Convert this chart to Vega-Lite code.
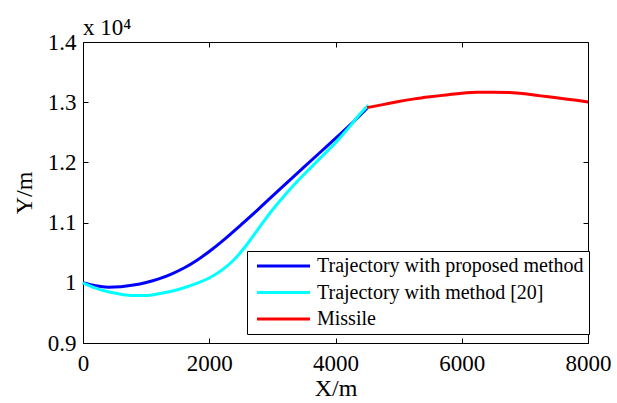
{
  "$schema": "https://vega.github.io/schema/vega-lite/v6.json",
  "width": 505,
  "height": 301,
  "autosize": "none",
  "padding": {"left": 83, "top": 42, "right": 29, "bottom": 60},
  "background": "white",
  "config": {
    "view": {"stroke": "black", "strokeWidth": 1},
    "font": "Liberation Serif",
    "axis": {"domain": false, "grid": false, "tickColor": "black", "tickSize": -5, "tickWidth": 1, "labelFlush": false, "labelOverlap": false, "labelFont": "Liberation Serif", "labelFontSize": 23, "labelColor": "black", "titleFont": "Liberation Serif", "titleFontSize": 24, "titleFontWeight": "normal", "titleColor": "black"}
  },
  "data": {"values": [
    {"x": 0, "y": 10000, "s": "Trajectory with proposed method"},
    {"x": 200, "y": 9950, "s": "Trajectory with proposed method"},
    {"x": 400, "y": 9928, "s": "Trajectory with proposed method"},
    {"x": 600, "y": 9935, "s": "Trajectory with proposed method"},
    {"x": 800, "y": 9962, "s": "Trajectory with proposed method"},
    {"x": 1000, "y": 10005, "s": "Trajectory with proposed method"},
    {"x": 1200, "y": 10065, "s": "Trajectory with proposed method"},
    {"x": 1400, "y": 10145, "s": "Trajectory with proposed method"},
    {"x": 1600, "y": 10245, "s": "Trajectory with proposed method"},
    {"x": 1800, "y": 10370, "s": "Trajectory with proposed method"},
    {"x": 2000, "y": 10520, "s": "Trajectory with proposed method"},
    {"x": 2250, "y": 10730, "s": "Trajectory with proposed method"},
    {"x": 2500, "y": 10960, "s": "Trajectory with proposed method"},
    {"x": 2750, "y": 11195, "s": "Trajectory with proposed method"},
    {"x": 3000, "y": 11440, "s": "Trajectory with proposed method"},
    {"x": 3250, "y": 11680, "s": "Trajectory with proposed method"},
    {"x": 3500, "y": 11920, "s": "Trajectory with proposed method"},
    {"x": 3750, "y": 12160, "s": "Trajectory with proposed method"},
    {"x": 4000, "y": 12400, "s": "Trajectory with proposed method"},
    {"x": 4250, "y": 12640, "s": "Trajectory with proposed method"},
    {"x": 4500, "y": 12900, "s": "Trajectory with proposed method"},
    {"x": 0, "y": 10000, "s": "Trajectory with method [20]"},
    {"x": 200, "y": 9912, "s": "Trajectory with method [20]"},
    {"x": 400, "y": 9850, "s": "Trajectory with method [20]"},
    {"x": 600, "y": 9810, "s": "Trajectory with method [20]"},
    {"x": 800, "y": 9788, "s": "Trajectory with method [20]"},
    {"x": 1000, "y": 9790, "s": "Trajectory with method [20]"},
    {"x": 1200, "y": 9818, "s": "Trajectory with method [20]"},
    {"x": 1400, "y": 9860, "s": "Trajectory with method [20]"},
    {"x": 1600, "y": 9918, "s": "Trajectory with method [20]"},
    {"x": 1800, "y": 9990, "s": "Trajectory with method [20]"},
    {"x": 2000, "y": 10080, "s": "Trajectory with method [20]"},
    {"x": 2200, "y": 10210, "s": "Trajectory with method [20]"},
    {"x": 2400, "y": 10390, "s": "Trajectory with method [20]"},
    {"x": 2600, "y": 10640, "s": "Trajectory with method [20]"},
    {"x": 2800, "y": 10930, "s": "Trajectory with method [20]"},
    {"x": 3000, "y": 11210, "s": "Trajectory with method [20]"},
    {"x": 3200, "y": 11460, "s": "Trajectory with method [20]"},
    {"x": 3400, "y": 11690, "s": "Trajectory with method [20]"},
    {"x": 3600, "y": 11905, "s": "Trajectory with method [20]"},
    {"x": 3800, "y": 12115, "s": "Trajectory with method [20]"},
    {"x": 4000, "y": 12325, "s": "Trajectory with method [20]"},
    {"x": 4200, "y": 12565, "s": "Trajectory with method [20]"},
    {"x": 4400, "y": 12815, "s": "Trajectory with method [20]"},
    {"x": 4520, "y": 12950, "s": "Trajectory with method [20]"},
    {"x": 4500, "y": 12910, "s": "Missile"},
    {"x": 4750, "y": 12960, "s": "Missile"},
    {"x": 5000, "y": 13010, "s": "Missile"},
    {"x": 5250, "y": 13055, "s": "Missile"},
    {"x": 5500, "y": 13090, "s": "Missile"},
    {"x": 5750, "y": 13120, "s": "Missile"},
    {"x": 6000, "y": 13150, "s": "Missile"},
    {"x": 6250, "y": 13165, "s": "Missile"},
    {"x": 6500, "y": 13165, "s": "Missile"},
    {"x": 6750, "y": 13160, "s": "Missile"},
    {"x": 7000, "y": 13140, "s": "Missile"},
    {"x": 7250, "y": 13105, "s": "Missile"},
    {"x": 7500, "y": 13075, "s": "Missile"},
    {"x": 7750, "y": 13040, "s": "Missile"},
    {"x": 8000, "y": 13005, "s": "Missile"}
  ]},
  "layer": [
    {
      "mark": {"type": "line", "strokeWidth": 3, "interpolate": "monotone"},
      "encoding": {
        "x": {"field": "x", "type": "quantitative", "scale": {"domain": [0, 8000], "nice": false}, "axis": {"orient": "bottom", "title": "X/m", "values": [0, 2000, 4000, 6000, 8000], "format": "d", "labelPadding": 14, "titlePadding": 1}},
        "y": {"field": "y", "type": "quantitative", "scale": {"domain": [9000, 14000], "nice": false, "zero": false}, "axis": {"orient": "left", "title": "Y/m", "values": [9000, 10000, 11000, 12000, 13000, 14000], "labelExpr": "datum.value == 10000 ? '1' : format(datum.value / 10000, '.1f')", "labelPadding": 12, "titlePadding": 11}},
        "color": {"field": "s", "type": "nominal", "sort": ["Trajectory with proposed method", "Trajectory with method [20]", "Missile"], "scale": {"domain": ["Trajectory with proposed method", "Trajectory with method [20]", "Missile"], "range": ["#0000FF", "#00FFFF", "#FF0000"]},
          "legend": {"title": null, "orient": "none", "legendX": 164, "legendY": 209, "padding": 5, "strokeColor": "black", "fillColor": "white", "cornerRadius": 0, "symbolType": "M-0.59,0H5.65", "symbolSize": 289, "symbolStrokeWidth": 3, "labelFont": "Liberation Serif", "labelFontSize": 20, "labelColor": "black", "labelLimit": 400, "rowPadding": 6.5, "labelOffset": 45}}
      }
    },
    {
      "mark": {"type": "line", "opacity": 0},
      "encoding": {
        "x": {"field": "x", "type": "quantitative", "axis": {"orient": "top", "title": null, "labels": false, "values": [0, 2000, 4000, 6000, 8000]}},
        "y": {"field": "y", "type": "quantitative", "axis": {"orient": "right", "title": null, "labels": false, "values": [9000, 10000, 11000, 12000, 13000, 14000]}}
      }
    },
    {
      "data": {"values": [{"x": 0, "y": 14000, "t": "x 10⁴"}]},
      "mark": {"type": "text", "align": "left", "baseline": "alphabetic", "dy": -7, "font": "Liberation Serif", "fontSize": 23, "color": "black"},
      "encoding": {
        "x": {"field": "x", "type": "quantitative", "axis": null},
        "y": {"field": "y", "type": "quantitative", "axis": null},
        "text": {"field": "t"}
      }
    }
  ],
  "resolve": {"axis": {"x": "independent", "y": "independent"}}
}
